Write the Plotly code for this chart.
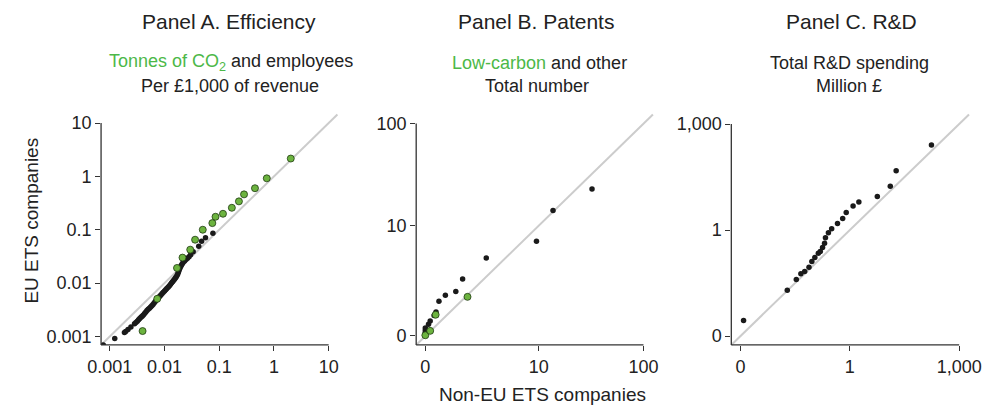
import numpy as np
import plotly.graph_objects as go

# ---------------- data ----------------
# Panel A (log-log): black = employees, green = tonnes of CO2
a_black_x = [0.00076, 0.00123, 0.00185, 0.00195, 0.00215, 0.00243, 0.00283, 0.00300, 0.00318,
             0.00335, 0.00352, 0.00371, 0.00390, 0.00410, 0.00432, 0.00455, 0.00478, 0.00503,
             0.00530, 0.00557, 0.00586, 0.00615, 0.00645, 0.00677, 0.00710, 0.00745, 0.00780,
             0.00818, 0.00860, 0.00905, 0.00950, 0.0100, 0.0105, 0.0110, 0.0116, 0.0122, 0.0128,
             0.0134, 0.0140, 0.0146, 0.0152, 0.0158, 0.0164, 0.0170, 0.0175, 0.0180, 0.0185,
             0.0190, 0.0196, 0.0203, 0.0211, 0.0220, 0.0232, 0.0246, 0.0262, 0.0280, 0.0300,
             0.0334, 0.0422, 0.0476, 0.0561, 0.0766]
a_black_y = [0.00069, 0.00091, 0.00118, 0.00123, 0.00135, 0.00150, 0.00172, 0.00182, 0.00193,
             0.00205, 0.00216, 0.00228, 0.00240, 0.00253, 0.00268, 0.00287, 0.00305, 0.00322,
             0.00338, 0.00356, 0.00375, 0.00398, 0.00423, 0.00450, 0.00478, 0.00505, 0.00535,
             0.00566, 0.00600, 0.00636, 0.00670, 0.00708, 0.00748, 0.00790, 0.00836, 0.00885,
             0.00940, 0.0100, 0.0106, 0.0112, 0.0118, 0.0124, 0.0131, 0.0140, 0.0150, 0.0162,
             0.0175, 0.0188, 0.0202, 0.0216, 0.0230, 0.0245, 0.0260, 0.0276, 0.0293, 0.0312,
             0.0340, 0.0388, 0.0490, 0.0607, 0.0708, 0.0857]
a_green_x = [0.00397, 0.00735, 0.0169, 0.0213, 0.0295, 0.0362, 0.050, 0.0748, 0.0855, 0.117,
             0.17, 0.229, 0.284, 0.45, 0.74, 2.03]
a_green_y = [0.00126, 0.00507, 0.0192, 0.030, 0.0423, 0.065, 0.100, 0.133, 0.175, 0.199,
             0.258, 0.34, 0.46, 0.60, 0.92, 2.16]
a_ticks = [0.001, 0.01, 0.1, 1, 10]
a_tick_labels = ["0.001", "0.01", "0.1", "1", "10"]

# Panel B (log(1+x) scale): black = other patents, green = low-carbon
b_black_x = [0, 0, 0, 0, 0.07, 0.108, 0.204, 0.254, 0.334, 0.528, 0.905, 1.20, 2.63, 9.5, 13.9, 33.0]
b_black_y = [0, 0.06, 0.114, 0.174, 0.268, 0.365, 0.541, 0.659, 1.10, 1.39, 1.59, 2.41, 4.40, 6.75, 14.2, 23.2]
b_green_x = [0, 0.108, 0.244, 1.44]
b_green_y = [0, 0.1, 0.564, 1.31]
b_ticks = [0, 10, 100]
b_tick_labels = ["0", "10", "100"]

# Panel C (log(x+0.001) scale): total R&D spending, million £
c_x = [0.00022, 0.0183, 0.0331, 0.0445, 0.057, 0.075, 0.090, 0.109, 0.136, 0.154, 0.178, 0.202,
       0.214, 0.258, 0.317, 0.459, 0.637, 0.797, 1.23, 1.77, 5.69, 12.9, 18.7, 173.8]
c_y = [0.00176, 0.019, 0.039, 0.057, 0.066, 0.088, 0.128, 0.166, 0.220, 0.245, 0.318, 0.421,
       0.607, 0.84, 1.09, 1.54, 2.13, 3.14, 4.83, 6.26, 8.86, 17.3, 47.7, 257]
c_ticks = [0, 1, 1000]
c_tick_labels = ["0", "1", "1,000"]

# ---------------- styling ----------------
OFF = 8  # page body margin offset of the figure inside the window
W, H = 993 - OFF, 407 - OFF
FONT = "Liberation Sans, Arial, Helvetica, sans-serif"
TXT = "#222222"
GREEN_TXT = "#4cb848"
GREEN = "#6cb33f"
BLACK = "#1a1a1a"
AXC = "#333333"


def tb(v):
    return np.log10(1 + np.asarray(v, dtype=float))


def tc(v):
    return np.log10(np.asarray(v, dtype=float) + 0.001)


def px_x(p):
    return (p - OFF) / W


def px_y(p):
    return 1 - (p - OFF) / H


fig = go.Figure()

dom_x = [[px_x(89.3), px_x(332.3)], [px_x(413.3), px_x(656.7)], [px_x(737.3), px_x(981.7)]]
dom_y = [px_y(346.5), px_y(114.3)]

rng_a = [-3.16, 1.16]
rng_b_x = [-0.084, 2.091]
rng_b_y = [-0.092, 2.09]
rng_c = [-3.25, 3.27]

# Panel A
fig.add_trace(go.Scatter(x=a_black_x, y=a_black_y, mode="markers", xaxis="x", yaxis="y",
                         marker=dict(size=5.5, color=BLACK), hoverinfo="skip"))
fig.add_trace(go.Scatter(x=a_green_x, y=a_green_y, mode="markers", xaxis="x", yaxis="y",
                         marker=dict(size=7, color=GREEN, line=dict(color="#1e3a10", width=0.8)),
                         hoverinfo="skip"))
# Panel B
fig.add_trace(go.Scatter(x=tb(b_black_x), y=tb(b_black_y), mode="markers", xaxis="x2", yaxis="y2",
                         marker=dict(size=5.5, color=BLACK), hoverinfo="skip"))
fig.add_trace(go.Scatter(x=tb(b_green_x), y=tb(b_green_y), mode="markers", xaxis="x2", yaxis="y2",
                         marker=dict(size=7, color=GREEN, line=dict(color="#1e3a10", width=0.8)),
                         hoverinfo="skip"))
# Panel C
fig.add_trace(go.Scatter(x=tc(c_x), y=tc(c_y), mode="markers", xaxis="x3", yaxis="y3",
                         marker=dict(size=5.5, color=BLACK), hoverinfo="skip"))

common = dict(showgrid=False, zeroline=False, showline=False, ticks="outside", ticklen=5,
              tickwidth=1.3, tickcolor=AXC, tickfont=dict(size=18, color=TXT, family=FONT),
              fixedrange=True)

fig.update_layout(
    width=W, height=H, margin=dict(l=0, r=0, t=0, b=0),
    paper_bgcolor="white", plot_bgcolor="white", showlegend=False,
    font=dict(family=FONT, color=TXT),
    xaxis=dict(domain=dom_x[0], type="log", range=rng_a, tickvals=a_ticks, ticktext=a_tick_labels,
               anchor="y", **common),
    yaxis=dict(domain=dom_y, type="log", range=rng_a, tickvals=a_ticks, ticktext=a_tick_labels,
               anchor="x", **common),
    xaxis2=dict(domain=dom_x[1], range=rng_b_x, tickvals=list(tb(b_ticks)), ticktext=b_tick_labels,
                anchor="y2", **common),
    yaxis2=dict(domain=dom_y, range=rng_b_y, tickvals=list(tb(b_ticks)), ticktext=b_tick_labels,
                anchor="x2", **common),
    xaxis3=dict(domain=dom_x[2], range=rng_c, tickvals=list(tc(c_ticks)), ticktext=c_tick_labels,
                anchor="y3", **common),
    yaxis3=dict(domain=dom_y, range=rng_c, tickvals=list(tc(c_ticks)), ticktext=c_tick_labels,
                anchor="x3", **common),
)


def to_paper(val, rng, dom):
    return dom[0] + (val - rng[0]) / (rng[1] - rng[0]) * (dom[1] - dom[0])


panels = [
    ("x", "y", rng_a, rng_a, float(np.log10(max(a_ticks))), float(np.log10(max(a_ticks)))),
    ("x2", "y2", rng_b_x, rng_b_y, float(tb(max(b_ticks))), float(tb(max(b_ticks)))),
    ("x3", "y3", rng_c, rng_c, float(tc(max(c_ticks))), float(tc(max(c_ticks)))),
]
shapes = []
for i, (xr, yr, rx, ry, xtop, ytop) in enumerate(panels):
    # 45-degree reference line
    shapes.append(dict(type="line", xref=f"{xr} domain", yref=f"{yr} domain", x0=0, y0=0, x1=1, y1=1,
                       line=dict(color="#cccccc", width=2), layer="below"))
    # L-shaped axis lines ending at the last tick
    x_left = dom_x[i][0]
    y_bot = dom_y[0]
    shapes.append(dict(type="line", xref="paper", yref="paper", x0=x_left, x1=x_left,
                       y0=y_bot, y1=to_paper(ytop, ry, dom_y), line=dict(color=AXC, width=1.3)))
    shapes.append(dict(type="line", xref="paper", yref="paper", x0=x_left,
                       x1=to_paper(xtop, rx, dom_x[i]), y0=y_bot, y1=y_bot,
                       line=dict(color=AXC, width=1.3)))
fig.update_layout(shapes=shapes)

ann = []


def add_text(text, cx, cy, size, xanchor="center", angle=0):
    ann.append(dict(text=text, x=px_x(cx), y=px_y(cy), xref="paper", yref="paper",
                    showarrow=False, xanchor=xanchor, yanchor="middle", textangle=angle,
                    font=dict(size=size, color=TXT, family=FONT)))


add_text("Panel A. Efficiency", 221, 21, 21)
add_text(f'<span style="color:{GREEN_TXT}">Tonnes of CO<sub>2</sub></span> and employees', 223, 62, 18)
add_text("Per £1,000 of revenue", 222, 86, 18)
add_text("Panel B. Patents", 536, 21, 21)
add_text(f'<span style="color:{GREEN_TXT}">Low-carbon</span> and other', 540, 62, 18)
add_text("Total number", 538, 86, 18)
add_text("Panel C. R&amp;D", 861, 21, 21)
add_text("Total R&amp;D spending", 859, 62, 18)
add_text("Million £", 858, 86, 18)
add_text("EU ETS companies", 18, 221.5, 19, angle=-90)
add_text("Non-EU ETS companies", 435, 396, 19, xanchor="left")
fig.update_layout(annotations=ann)

fig.write_html("out.html")
